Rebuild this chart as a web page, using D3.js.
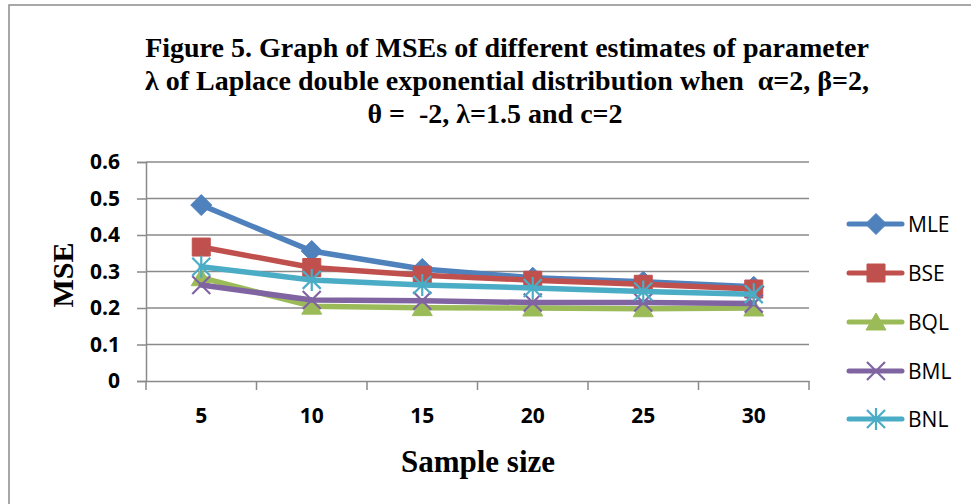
<!DOCTYPE html>
<html>
<head>
<meta charset="utf-8">
<script src="https://cdn.jsdelivr.net/npm/d3@7"></script>
<style>
  html, body { margin: 0; padding: 0; background: #fff; }
  svg { display: block; }
</style>
</head>
<body>
<script>
// Sample sizes on the x axis
const sampleSizes = [5, 10, 15, 20, 25, 30];
// MSE of each estimator of lambda
const mle = [0.482, 0.356, 0.307, 0.283, 0.272, 0.258];
const bse = [0.367, 0.311, 0.290, 0.276, 0.265, 0.252];
const bql = [0.283, 0.205, 0.201, 0.200, 0.198, 0.200];
const bml = [0.263, 0.222, 0.220, 0.215, 0.215, 0.212];
const bnl = [0.313, 0.277, 0.263, 0.255, 0.245, 0.238];
const seriesNames = ["MLE", "BSE", "BQL", "BML", "BNL"];
const yTicks = [0, 0.1, 0.2, 0.3, 0.4, 0.5, 0.6];
const titleLines = [
  "Figure 5. Graph of MSEs of different estimates of parameter",
  "λ of Laplace double exponential distribution when  α=2, β=2,",
  "θ =  -2, λ=1.5 and c=2"
];

const series = [
  { name: seriesNames[0], values: mle, color: "#4F81BD", marker: "diamond" },
  { name: seriesNames[1], values: bse, color: "#C0504D", marker: "square" },
  { name: seriesNames[2], values: bql, color: "#9BBB59", marker: "triangle" },
  { name: seriesNames[3], values: bml, color: "#8064A2", marker: "x" },
  { name: seriesNames[4], values: bnl, color: "#4BACC6", marker: "star" }
];

const W = 971, H = 504;
const svg = d3.select("body").append("svg").attr("width", W).attr("height", H);

// outer chart border
svg.append("rect").attr("x", 9).attr("y", 5).attr("width", 990).attr("height", 540)
  .attr("fill", "none").attr("stroke", "#8c8c8c").attr("stroke-width", 1.5);

const plot = { left: 146, right: 809, top: 162, bottom: 381 };
const x = d3.scaleBand().domain(sampleSizes).range([plot.left, plot.right]).padding(0);
const y = d3.scaleLinear().domain([0, 0.6]).range([plot.bottom, plot.top]);
const cx = d => x(d) + x.bandwidth() / 2;

const gridColor = "#8a8a8a";

// horizontal gridlines
svg.append("g").selectAll("line").data(yTicks.slice(1)).join("line")
  .attr("x1", plot.left).attr("x2", plot.right)
  .attr("y1", d => y(d)).attr("y2", d => y(d))
  .attr("stroke", gridColor).attr("stroke-width", 1.5);

// y axis
const yAxis = svg.append("g").attr("transform", `translate(${plot.left},0)`)
  .call(d3.axisLeft(y).tickValues(yTicks).tickSize(9).tickPadding(17)
    .tickFormat(d => d === 0 ? "0" : d3.format(".1f")(d)));
yAxis.select(".domain").attr("stroke", gridColor).attr("stroke-width", 1.5);
yAxis.selectAll(".tick line").attr("stroke", gridColor).attr("stroke-width", 1.5);
yAxis.selectAll(".tick text")
  .attr("font-family", "'Open Sans', sans-serif").attr("font-weight", "bold")
  .attr("font-size", 21).attr("fill", "#000");

// x axis: labels centred in categories, tick marks on category boundaries
const xAxis = svg.append("g").attr("transform", `translate(0,${plot.bottom})`)
  .call(d3.axisBottom(x).tickSize(0).tickPadding(27));
xAxis.select(".domain").attr("stroke", gridColor).attr("stroke-width", 1.5);
xAxis.selectAll(".tick text")
  .attr("font-family", "'Open Sans', sans-serif").attr("font-weight", "bold")
  .attr("font-size", 21).attr("fill", "#000");
const bounds = sampleSizes.map(d => x(d)).concat([plot.right]);
xAxis.append("g").selectAll("line").data(bounds).join("line")
  .attr("x1", d => d).attr("x2", d => d).attr("y1", 0).attr("y2", 9)
  .attr("stroke", gridColor).attr("stroke-width", 1.5);

// marker shapes
function markerPath(type) {
  switch (type) {
    case "diamond": return "M0,-10.5L10.5,0L0,10.5L-10.5,0Z";
    case "square": return "M-9,-9H9V9H-9Z";
    case "triangle": return "M0,-9L10,8H-10Z";
    case "x": return "M-9,-9L9,9M-9,9L9,-9";
    case "star": return "M-9,-9L9,9M-9,9L9,-9M0,-11L0,11";
  }
}
function drawMarker(g, s, px, py) {
  const filled = s.marker === "diamond" || s.marker === "square" || s.marker === "triangle";
  g.append("path").attr("d", markerPath(s.marker))
    .attr("transform", `translate(${px},${py})`)
    .attr("fill", filled ? s.color : "none")
    .attr("stroke", s.color).attr("stroke-width", filled ? 1 : 2.2);
}

const line = d3.line().x(d => cx(d.x)).y(d => y(d.v));
series.forEach(s => {
  const pts = s.values.map((v, i) => ({ x: sampleSizes[i], v }));
  const g = svg.append("g");
  g.append("path").datum(pts).attr("d", line)
    .attr("fill", "none").attr("stroke", s.color).attr("stroke-width", 5.5)
    .attr("stroke-linejoin", "round").attr("stroke-linecap", "round");
  pts.forEach(p => drawMarker(g, s, cx(p.x), y(p.v)));
});

// legend
const legendY = [224, 273, 322, 371, 419];
series.forEach((s, i) => {
  const g = svg.append("g");
  g.append("line").attr("x1", 849).attr("x2", 902).attr("y1", legendY[i]).attr("y2", legendY[i])
    .attr("stroke", s.color).attr("stroke-width", 5).attr("stroke-linecap", "round");
  drawMarker(g, s, 876, legendY[i]);
  g.append("text").attr("x", 908).attr("y", legendY[i]).attr("dy", "0.36em")
    .attr("font-family", "'Open Sans', sans-serif").attr("font-size", 21)
    .attr("fill", "#000").text(s.name);
});

// titles
const titleY = [57, 90, 123];
const titleX = [507, 507, 495];
titleLines.forEach((t, i) => {
  svg.append("text").attr("x", titleX[i]).attr("y", titleY[i]).attr("text-anchor", "middle")
    .attr("font-family", "'Liberation Serif', 'Times New Roman', serif")
    .attr("font-weight", "bold").attr("font-size", 28).attr("fill", "#000")
    .style("white-space", "pre").text(t);
});

svg.append("text").attr("x", 478).attr("y", 472).attr("text-anchor", "middle")
  .attr("font-family", "'Liberation Serif', 'Times New Roman', serif")
  .attr("font-weight", "bold").attr("font-size", 31).attr("fill", "#000").text("Sample size");

svg.append("text").attr("transform", "translate(73,275) rotate(-90)").attr("text-anchor", "middle")
  .attr("font-family", "'Liberation Serif', 'Times New Roman', serif")
  .attr("font-weight", "bold").attr("font-size", 30).attr("fill", "#000").text("MSE");
</script>
</body>
</html>
